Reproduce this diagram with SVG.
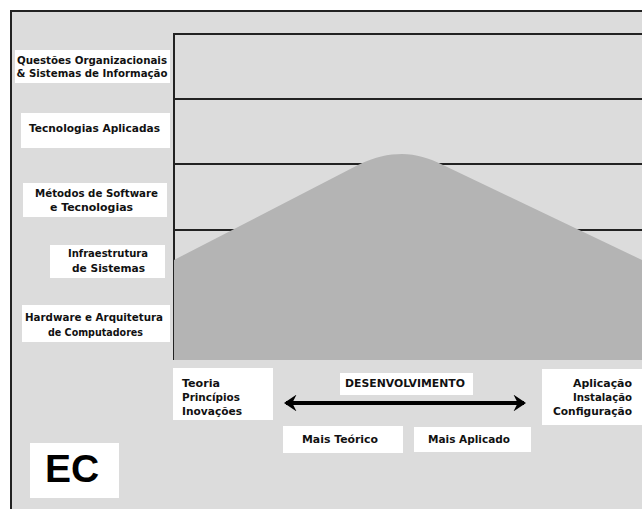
<svg xmlns="http://www.w3.org/2000/svg" width="642" height="509" viewBox="0 0 642 509">
<style>
.t{font-family:"DejaVu Sans",Verdana,sans-serif;font-weight:bold;font-size:10px;fill:#111}
.box{fill:#fff}
.ln{stroke:#222;stroke-width:2;fill:none}
</style>
<defs>
<marker id="ah" viewBox="0 0 12 16" refX="10" refY="8" markerWidth="3.2" markerHeight="4.2" orient="auto-start-reverse" markerUnits="strokeWidth">
<path d="M0,0 L12,8 L0,16 L4,8 Z" fill="#000"/>
</marker>
</defs>
<rect x="0" y="0" width="642" height="509" fill="#fff"/>
<rect x="11" y="11" width="631" height="498" fill="#dcdcdc"/>
<g id="frame">
<line x1="11" y1="11" x2="642" y2="11" class="ln" stroke-width="2.5"/>
<line x1="11" y1="10" x2="11" y2="509" class="ln" stroke-width="2.5"/>
</g>
<g id="grid">
<line x1="174" y1="34" x2="642" y2="34" class="ln"/>
<line x1="174" y1="99" x2="642" y2="99" class="ln"/>
<line x1="174" y1="164" x2="642" y2="164" class="ln"/>
<line x1="174" y1="230" x2="642" y2="230" class="ln"/>
<line x1="174" y1="33" x2="174" y2="360" class="ln"/>
</g>
<g id="mountain">
<path d="M174,260 L358,165 C374,157 389,154 402,154 C416,154 429,158 443,165 L642,260 L642,360 L174,360 Z" fill="#b4b4b4"/>
</g>
<g id="row1">
<rect class="box" x="15" y="50" width="155" height="33"/>
<text class="t" x="92" y="64" text-anchor="middle" textLength="150" lengthAdjust="spacingAndGlyphs">Questões Organizacionais</text>
<text class="t" x="92" y="77" text-anchor="middle" textLength="151" lengthAdjust="spacingAndGlyphs">&amp; Sistemas de Informação</text>
</g>
<g id="row2">
<rect class="box" x="21" y="113" width="149" height="35"/>
<text class="t" x="94.5" y="132" text-anchor="middle" textLength="131" lengthAdjust="spacingAndGlyphs">Tecnologias Aplicadas</text>
</g>
<g id="row3">
<rect class="box" x="23" y="183" width="144" height="34"/>
<text class="t" x="96.5" y="197" text-anchor="middle" textLength="123" lengthAdjust="spacingAndGlyphs">Métodos de Software</text>
<text class="t" x="91.5" y="211" text-anchor="middle" textLength="83" lengthAdjust="spacingAndGlyphs">e Tecnologias</text>
</g>
<g id="row4">
<rect class="box" x="50" y="245" width="115" height="33"/>
<text class="t" x="108" y="257" text-anchor="middle" textLength="80" lengthAdjust="spacingAndGlyphs">Infraestrutura</text>
<text class="t" x="108.5" y="272" text-anchor="middle" textLength="73" lengthAdjust="spacingAndGlyphs">de Sistemas</text>
</g>
<g id="row5">
<rect class="box" x="22" y="305" width="148" height="37"/>
<text class="t" x="94" y="321" text-anchor="middle" textLength="138" lengthAdjust="spacingAndGlyphs">Hardware e Arquitetura</text>
<text class="t" x="95.5" y="336" text-anchor="middle" textLength="95" lengthAdjust="spacingAndGlyphs">de Computadores</text>
</g>
<g id="teoria">
<rect class="box" x="173" y="368" width="100" height="52"/>
<text class="t" x="182" y="387" textLength="38" lengthAdjust="spacingAndGlyphs">Teoria</text>
<text class="t" x="182" y="401" textLength="58" lengthAdjust="spacingAndGlyphs">Princípios</text>
<text class="t" x="182" y="415" textLength="60" lengthAdjust="spacingAndGlyphs">Inovações</text>
</g>
<g id="desenvolvimento">
<rect class="box" x="340" y="373" width="133" height="22"/>
<text class="t" x="405" y="387" text-anchor="middle" textLength="120" lengthAdjust="spacingAndGlyphs">DESENVOLVIMENTO</text>
</g>
<g id="aplicacao">
<rect class="box" x="542" y="369" width="100" height="56"/>
<text class="t" x="632" y="387" text-anchor="end" textLength="59" lengthAdjust="spacingAndGlyphs">Aplicação</text>
<text class="t" x="632" y="401" text-anchor="end" textLength="59" lengthAdjust="spacingAndGlyphs">Instalação</text>
<text class="t" x="632" y="415" text-anchor="end" textLength="79" lengthAdjust="spacingAndGlyphs">Configuração</text>
</g>
<g id="teorico">
<rect class="box" x="283" y="426" width="120" height="27"/>
<text class="t" x="340" y="443" text-anchor="middle" textLength="76" lengthAdjust="spacingAndGlyphs">Mais Teórico</text>
</g>
<g id="aplicado">
<rect class="box" x="414" y="427" width="117" height="25"/>
<text class="t" x="469" y="443" text-anchor="middle" textLength="82" lengthAdjust="spacingAndGlyphs">Mais Aplicado</text>
</g>
<g id="ec">
<rect class="box" x="30" y="443" width="89" height="55"/>
<text x="72" y="482" text-anchor="middle" font-family="Liberation Sans,Arial,sans-serif" font-weight="bold" font-size="39" fill="#000">EC</text>
</g>
<g id="connectors">
<line x1="286" y1="403" x2="524" y2="403" stroke="#000" stroke-width="4" marker-start="url(#ah)" marker-end="url(#ah)"/>
</g>
</svg>
